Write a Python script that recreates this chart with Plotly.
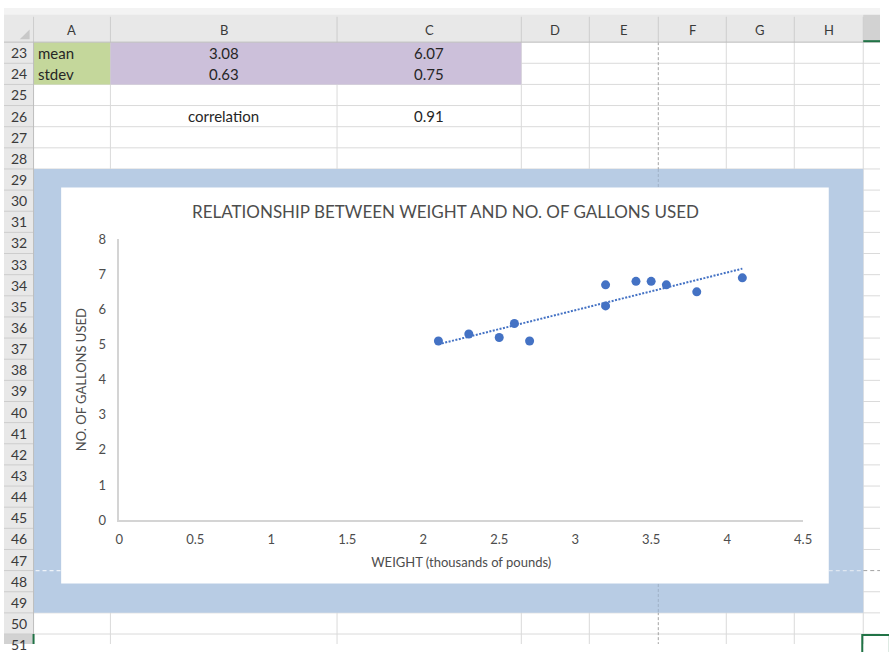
import numpy as np
import plotly.graph_objects as go

# Vehicle data: weight (thousands of pounds) vs. gallons used
weight = [2.1, 2.3, 2.5, 2.6, 2.7, 3.2, 3.2, 3.4, 3.5, 3.6, 3.8, 4.1]
gallons = [5.1, 5.3, 5.2, 5.6, 5.1, 6.7, 6.1, 6.8, 6.8, 6.7, 6.5, 6.9]

x_ticks = [0, 0.5, 1, 1.5, 2, 2.5, 3, 3.5, 4, 4.5]
y_ticks = [0, 1, 2, 3, 4, 5, 6, 7, 8]

col_letters = ["A", "B", "C", "D", "E", "F", "G", "H"]
first_row, last_row = 23, 51

W, H = 889, 652
FONT = "Lato"
TXT = "#4d4d4d"
BLUE = "#4472c4"


def px(x):
    return x / W


def py(y):
    return 1 - y / H


# spreadsheet geometry (pixels)
col_edges = [30, 108, 338, 525, 594, 664, 733, 802, 872]
header_h = 35
row_h = 21.67


def row_top(n):
    return header_h + (n - first_row) * row_h


shapes = []


def rect(x0, y0, x1, y1, fill, line_color=None, line_width=0):
    shapes.append(dict(type="rect", xref="paper", yref="paper", layer="below",
                       x0=px(x0), x1=px(x1), y0=py(y1), y1=py(y0),
                       fillcolor=fill,
                       line=dict(color=line_color or fill, width=line_width)))


def seg(x0, y0, x1, y1, color, width=1, dash="solid"):
    shapes.append(dict(type="line", xref="paper", yref="paper", layer="below",
                       x0=px(x0), x1=px(x1), y0=py(y0), y1=py(y1),
                       line=dict(color=color, width=width, dash=dash)))


# headers
rect(0, 0, W, header_h, "#e8e8e8")
rect(0, 0, W, 7, "#f3f3f3")
rect(0, header_h, 30, H, "#e8e8e8")
rect(872, 7, W, header_h, "#d2d2d2")
rect(0, row_top(51), 30, H, "#d2d2d2")

# cell gridlines
GRID = "#dadada"
for n in range(first_row + 1, last_row + 1):
    y = row_top(n)
    if n == 48:
        continue
    seg(30, y, W, y, GRID)
for x in col_edges[1:]:
    if x == 664:
        continue
    seg(x, header_h, x, H, GRID)

# header separators
for n in range(first_row + 1, last_row + 1):
    seg(0, row_top(n), 30, row_top(n), "#cdcdcd")
for x in col_edges:
    seg(x, 9, x, header_h, "#cdcdcd")

# coloured cells
rect(30, row_top(23), 108, row_top(25), "#c4d79b")
rect(108, row_top(23), 525, row_top(25), "#ccc0da")

# page breaks
seg(664, header_h, 664, H, "#a3a3a3", 1, "3px,2px")
seg(872, row_top(48), W, row_top(48), "#a3a3a3", 1, "4px,3px")

# chart object
rect(30, row_top(29), 872, row_top(50), "#b8cce4")
seg(664, row_top(29), 664, row_top(50), "#9fb0c6", 1, "3px,2px")
seg(32, row_top(48), 58, row_top(48), "#eef3f9", 1.2, "4px,3px")
seg(837, row_top(48), 872, row_top(48), "#dfe7f1", 1.2, "4px,3px")
rect(58, 184, 837, 590, "#ffffff")

# header borders and selection
seg(0, header_h, W, header_h, "#bdbdbd")
seg(30, header_h, 30, H, "#bdbdbd")
seg(872, header_h - 1, W, header_h - 1, "#217346", 2)
seg(30, row_top(51), 30, H, "#217346", 2)
shapes.append(dict(type="rect", xref="paper", yref="paper", layer="below",
                   x0=px(871), x1=px(W + 10), y0=py(H + 10), y1=py(row_top(51) + 1),
                   fillcolor="rgba(0,0,0,0)", line=dict(color="#217346", width=2)))
# corner triangle
shapes.append(dict(type="path", xref="paper", yref="paper", layer="below",
                   path=f"M {px(26)} {py(22)} L {px(26)} {py(32)} L {px(16)} {py(32)} Z",
                   fillcolor="#c8c8c8", line=dict(width=0)))

annotations = []


def label(x, y, text, size=13, color="#262626", xanchor="center", family=FONT):
    annotations.append(dict(x=px(x), y=py(y), xref="paper", yref="paper", text=text,
                            showarrow=False, xanchor=xanchor, yanchor="middle",
                            font=dict(family=family, size=size, color=color)))


for i, c in enumerate(col_letters):
    label((col_edges[i] + col_edges[i + 1]) / 2, 23, c, 13, "#3a3a3a")
for n in range(first_row, last_row + 1):
    label(15, row_top(n) + row_h / 2, str(n), 14, "#3a3a3a")

# summary statistics of the data
wx = np.array(weight)
gy = np.array(gallons)
b_mid = (col_edges[1] + col_edges[2]) / 2
c_mid = (col_edges[2] + col_edges[3]) / 2
CS = 15
label(32, row_top(23) + row_h / 2, "mean", CS, xanchor="left")
label(32, row_top(24) + row_h / 2, "stdev", CS, xanchor="left")
label(b_mid, row_top(23) + row_h / 2, f"{wx.mean():.2f}", CS)
label(c_mid, row_top(23) + row_h / 2, f"{gy.mean():.2f}", CS)
label(b_mid, row_top(24) + row_h / 2, f"{wx.std(ddof=1):.2f}", CS)
label(c_mid, row_top(24) + row_h / 2, f"{gy.std(ddof=1):.2f}", CS)
label(b_mid, row_top(26) + row_h / 2, "correlation", CS)
label(c_mid, row_top(26) + row_h / 2, f"{np.corrcoef(wx, gy)[0, 1]:.2f}", CS)

# linear trendline
slope, intercept = np.polyfit(wx, gy, 1)
tx = np.array([wx.min(), wx.max()])
ty = slope * tx + intercept

fig = go.Figure()
fig.add_trace(go.Scatter(x=tx, y=ty, mode="lines",
                         line=dict(color=BLUE, width=2, dash="2px,1.5px"),
                         hoverinfo="skip", showlegend=False))
fig.add_trace(go.Scatter(x=weight, y=gallons, mode="markers",
                         marker=dict(color=BLUE, size=9), showlegend=False))

fig.update_layout(
    width=W, height=H,
    margin=dict(l=0, r=0, t=0, b=0),
    paper_bgcolor="#ffffff",
    plot_bgcolor="rgba(0,0,0,0)",
    shapes=shapes,
    annotations=annotations,
    title=dict(text="RELATIONSHIP BETWEEN WEIGHT AND NO. OF GALLONS USED",
               x=px(448), y=py(209), xanchor="center", yanchor="middle",
               xref="paper", yref="paper",
               font=dict(family=FONT, size=17, color=TXT)),
    xaxis=dict(domain=[px(117), px(811)], range=[0, 4.5],
               tickvals=x_ticks, ticktext=[f"{v:g}" for v in x_ticks],
               showgrid=False, zeroline=False, showline=True,
               linecolor="#d4d4d4", linewidth=1.5,
               ticks="outside", ticklen=7, tickcolor="rgba(0,0,0,0)",
               tickfont=dict(family=FONT, size=13, color=TXT),
               title=dict(text="WEIGHT (thousands of pounds)", standoff=11,
                          font=dict(family=FONT, size=13, color=TXT))),
    yaxis=dict(domain=[py(525), py(237)], range=[0, 8],
               tickvals=y_ticks, ticktext=[str(v) for v in y_ticks],
               showgrid=False, zeroline=False, showline=True,
               linecolor="#d4d4d4", linewidth=1.5,
               ticks="outside", ticklen=9, tickcolor="rgba(0,0,0,0)",
               tickfont=dict(family=FONT, size=13, color=TXT),
               title=dict(text="NO. OF GALLONS USED", standoff=9,
                          font=dict(family=FONT, size=13, color=TXT))),
)

fig.write_html("out.html", config={"displayModeBar": False})
